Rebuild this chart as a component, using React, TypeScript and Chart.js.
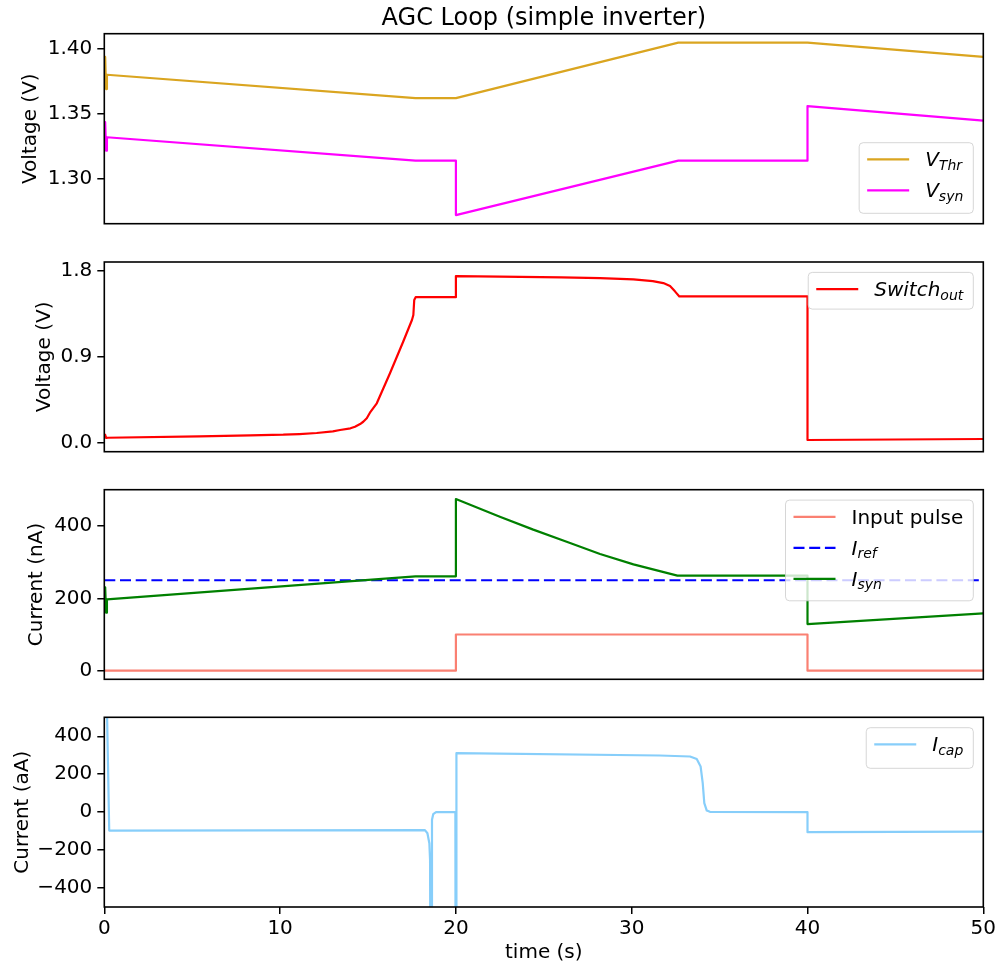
import React, { useEffect, useRef } from 'react';
import { Chart, registerables } from 'chart.js';

Chart.register(...registerables);
Chart.defaults.font.family = '"DejaVu Sans", sans-serif';
Chart.defaults.color = '#000';

const FIG_W = 1000;
const FIG_H = 966;
const FRAME_LEFT = 104.3;
const FRAME_RIGHT = 983.3;

// shared time axis (s)
const timeRange = [0, 50];
const timeTicks = [0, 10, 20, 30, 40, 50];

// panel 1: threshold and synapse voltages (V)
const vThrTime = [0, 0.05, 0.1, 0.15, 17.7, 20.0, 32.65, 40.0, 50];
const vThrValues = [1.3797, 1.3934, 1.3687, 1.3797, 1.3617, 1.3617, 1.4044, 1.4044, 1.3934];
const vSynTime = [0, 0.05, 0.1, 0.15, 17.7, 20.0, 20.0, 32.65, 40.0, 40.0, 50];
const vSynValues = [1.3316, 1.3432, 1.3213, 1.3316, 1.3136, 1.3136, 1.2717, 1.3136, 1.3136, 1.3556, 1.3444];
const voltTicksTop = [1.3, 1.35, 1.4];

// panel 2: switch output (V)
const switchTime = [
  0, 0.05, 0.1, 0.15, 5.4, 8.3, 10.18, 11.1, 12.08, 13.0, 13.41, 14.0, 14.26, 14.55, 14.73, 14.93,
  15.11, 15.5, 16.25, 17.0, 17.5, 17.58, 17.63, 17.71, 20.0, 20.0, 22.5, 26.0, 28.2, 30.1, 31.2,
  31.8, 32.18, 32.46, 32.71, 40.0, 40.0, 50,
];
const switchValues = [
  0.048, 0.08, 0.045, 0.048, 0.062, 0.0735, 0.08, 0.087, 0.098, 0.115, 0.129, 0.147, 0.164, 0.192,
  0.216, 0.252, 0.311, 0.41, 0.725, 1.057, 1.285, 1.337, 1.495, 1.525, 1.525, 1.747, 1.741, 1.733,
  1.726, 1.712, 1.694, 1.673, 1.642, 1.586, 1.533, 1.533, 0.024, 0.035,
];
const voltTicksSwitch = [0, 0.9, 1.8];

// panel 3: currents (nA)
const pulseTime = [0, 20, 20, 40, 40, 50];
const pulseValues = [0, 0, 100, 100, 0, 0];
const refTime = [0, 50];
const refValues = [250, 250];
const iSynTime = [0, 0.05, 0.1, 0.15, 17.7, 20.0, 20.0, 22.5, 24.4, 26.3, 28.2, 30.1, 32.6, 40.0, 40.0, 50];
const iSynValues = [197.4, 230.6, 160.4, 197.4, 261, 261, 474.7, 425.8, 390, 356.7, 322.6, 294, 262.7, 262.7, 129, 158.7];
const currentTicksNa = [0, 200, 400];

// panel 4: capacitor current (aA)
const iCapTime = [
  0, 0.14, 0.28, 18.24, 18.38, 18.49, 18.53, 18.57, 18.6, 18.64, 18.71, 18.87, 19.97, 19.99, 20.01,
  20.03, 31.6, 33.32, 33.7, 33.92, 34.04, 34.13, 34.27, 34.45, 40.0, 40.0, 50,
];
const iCapValues = [
  2500, 600, -97, -95, -111, -164, -252, -1500, -1500, -40.6, -10.7, 0, 0, -1500, -1500, 311, 298.7,
  293.4, 279.7, 240.6, 153, 47.5, 8.4, 1.6, 0, -105.5, -103,
];
const currentTicksAa = [-400, -200, 0, 200, 400];

type Series = {
  label: string;
  sub?: string;
  italic: boolean;
  color: string;
  dash?: number[];
  time: number[];
  values: number[];
  order: number;
};

type PanelSpec = {
  top: number;
  bottom: number;
  yRange: number[];
  yTicks: number[];
  decimals: number;
  yTitle: string;
  yTitleOffset: number;
  series: Series[];
  legendLoc: 'upper' | 'lower';
  legendHeight: number;
  heading?: string;
};

const LINE_W = 2.2;

const panels: PanelSpec[] = [
  {
    top: 33.7,
    bottom: 223.7,
    yRange: [1.2651, 1.4113],
    yTicks: voltTicksTop,
    decimals: 2,
    yTitle: 'Voltage (V)',
    yTitleOffset: 18.5,
    legendLoc: 'lower',
    legendHeight: 70.6,
    heading: 'AGC Loop (simple inverter)',
    series: [
      { label: 'V', sub: 'Thr', italic: true, color: '#daa520', time: vThrTime, values: vThrValues, order: 2 },
      { label: 'V', sub: 'syn', italic: true, color: '#ff00ff', time: vSynTime, values: vSynValues, order: 1 },
    ],
  },
  {
    top: 262,
    bottom: 451.7,
    yRange: [-0.0987, 1.8945],
    yTicks: voltTicksSwitch,
    decimals: 1,
    yTitle: 'Voltage (V)',
    yTitleOffset: 32.7,
    legendLoc: 'upper',
    legendHeight: 36.7,
    series: [
      { label: 'Switch', sub: 'out', italic: true, color: '#ff0000', time: switchTime, values: switchValues, order: 1 },
    ],
  },
  {
    top: 489.7,
    bottom: 679.3,
    yRange: [-23.8, 500.4],
    yTicks: currentTicksNa,
    decimals: 0,
    yTitle: 'Current (nA)',
    yTitleOffset: 25.2,
    legendLoc: 'upper',
    legendHeight: 100.7,
    series: [
      { label: 'Input pulse', italic: false, color: '#fa8072', time: pulseTime, values: pulseValues, order: 3 },
      { label: 'I', sub: 'ref', italic: true, color: '#0000ff', dash: [11, 4.7], time: refTime, values: refValues, order: 2 },
      { label: 'I', sub: 'syn', italic: true, color: '#008000', time: iSynTime, values: iSynValues, order: 1 },
    ],
  },
  {
    top: 717.3,
    bottom: 907,
    yRange: [-500, 500],
    yTicks: currentTicksAa,
    decimals: 0,
    yTitle: 'Current (aA)',
    yTitleOffset: 10.5,
    legendLoc: 'upper',
    legendHeight: 40.6,
    series: [
      { label: 'I', sub: 'cap', italic: true, color: '#87cefa', time: iCapTime, values: iCapValues, order: 1 },
    ],
  },
];

const formatTick = (v: number, decimals: number) => v.toFixed(decimals).replace('-', '\u2212');

const mainFont = (italic: boolean) => `${italic ? 'italic ' : ''}20px "DejaVu Sans"`;
const subFont = 'italic 14px "DejaVu Sans"';

function measureLabel(ctx: CanvasRenderingContext2D, s: Series) {
  ctx.font = mainFont(s.italic);
  let w = ctx.measureText(s.label).width;
  if (s.sub) {
    ctx.font = subFont;
    w += ctx.measureText(s.sub).width;
  }
  return w;
}

function drawLabel(ctx: CanvasRenderingContext2D, s: Series, x: number, baseline: number) {
  ctx.fillStyle = '#000';
  ctx.textAlign = 'left';
  ctx.textBaseline = 'alphabetic';
  ctx.font = mainFont(s.italic);
  ctx.fillText(s.label, x, baseline);
  if (s.sub) {
    const w = ctx.measureText(s.label).width;
    ctx.font = subFont;
    ctx.fillText(s.sub, x + w, baseline + 3.5);
  }
}

function roundedRect(ctx: CanvasRenderingContext2D, x: number, y: number, w: number, h: number, r: number) {
  ctx.beginPath();
  ctx.moveTo(x + r, y);
  ctx.lineTo(x + w - r, y);
  ctx.arcTo(x + w, y, x + w, y + r, r);
  ctx.lineTo(x + w, y + h - r);
  ctx.arcTo(x + w, y + h, x + w - r, y + h, r);
  ctx.lineTo(x + r, y + h);
  ctx.arcTo(x, y + h, x, y + h - r, r);
  ctx.lineTo(x, y + r);
  ctx.arcTo(x, y, x + r, y, r);
  ctx.closePath();
}

// axes frame, figure heading and in-axes legend
const panelDecor = {
  id: 'panelDecor',
  afterDatasetsDraw(chart: any, _args: any, opts: any) {
    const ctx: CanvasRenderingContext2D = chart.ctx;
    const { left, top, right, bottom } = chart.chartArea;
    ctx.save();
    ctx.strokeStyle = '#000';
    ctx.lineWidth = 1.6;
    ctx.strokeRect(left, top, right - left, bottom - top);

    if (opts.heading) {
      ctx.font = '24px "DejaVu Sans"';
      ctx.fillStyle = '#000';
      ctx.textAlign = 'center';
      ctx.textBaseline = 'alphabetic';
      ctx.fillText(opts.heading, (left + right) / 2, top - 8.7);
    }

    const items: Series[] = opts.items;
    const labelW = Math.max(...items.map((s) => measureLabel(ctx, s)));
    const boxW = 8 + 42 + 16 + labelW + 10;
    const boxH: number = opts.height;
    const bx = right - 10 - boxW;
    const by = opts.loc === 'upper' ? top + 10.4 : bottom - 10.4 - boxH;
    roundedRect(ctx, bx, by, boxW, boxH, 4);
    ctx.fillStyle = 'rgba(255,255,255,0.8)';
    ctx.fill();
    ctx.strokeStyle = 'rgba(204,204,204,0.8)';
    ctx.lineWidth = 1;
    ctx.stroke();

    items.forEach((s, k) => {
      const cy = by + 16.7 + k * 31;
      ctx.beginPath();
      ctx.setLineDash(s.dash || []);
      ctx.strokeStyle = s.color;
      ctx.lineWidth = LINE_W;
      ctx.moveTo(bx + 8, cy);
      ctx.lineTo(bx + 50, cy);
      ctx.stroke();
      ctx.setLineDash([]);
      drawLabel(ctx, s, bx + 66, cy + 7);
    });
    ctx.restore();
  },
};

function PanelChart({ spec, index }: { spec: PanelSpec; index: number }) {
  const ref = useRef<HTMLCanvasElement>(null);
  const isLast = index === panels.length - 1;
  const canvasTop = index === 0 ? 0 : Math.floor(spec.top - 26);
  const canvasBottom = isLast ? FIG_H : Math.ceil(spec.bottom + 26);
  const height = canvasBottom - canvasTop;
  const padTop = spec.top - canvasTop;
  const padBottom = isLast ? 0 : canvasBottom - spec.bottom;

  useEffect(() => {
    if (!ref.current) return;
    const chart = new Chart(ref.current, {
      type: 'scatter',
      data: {
        datasets: spec.series.map((s) => ({
          label: s.label + (s.sub || ''),
          data: s.time.map((t, i) => ({ x: t, y: s.values[i] })),
          showLine: true,
          borderColor: s.color,
          backgroundColor: s.color,
          borderWidth: LINE_W,
          borderDash: s.dash || [],
          borderJoinStyle: 'round',
          pointRadius: 0,
          pointHoverRadius: 0,
          tension: 0,
          order: s.order,
        })),
      },
      options: {
        responsive: false,
        animation: false,
        devicePixelRatio: 1,
        events: [],
        layout: { padding: { left: 0, right: FIG_W - FRAME_RIGHT, top: padTop, bottom: padBottom } },
        plugins: {
          legend: { display: false },
          tooltip: { enabled: false },
          title: { display: false },
          panelDecor: {
            items: spec.series,
            loc: spec.legendLoc,
            height: spec.legendHeight,
            heading: spec.heading,
          },
        } as any,
        scales: {
          x: {
            type: 'linear',
            min: timeRange[0],
            max: timeRange[1],
            display: isLast,
            afterBuildTicks: (axis: any) => {
              axis.ticks = timeTicks.map((value) => ({ value }));
            },
            afterFit: (axis: any) => {
              axis.height = isLast ? FIG_H - spec.bottom : 0;
            },
            ticks: {
              font: { size: 20 },
              color: '#000',
              padding: 3,
              maxRotation: 0,
              autoSkip: false,
              callback: (v: any) => formatTick(Number(v), 0),
            },
            grid: { drawOnChartArea: false, drawTicks: true, tickLength: 7, color: '#000', lineWidth: 1.5 },
            border: { display: false },
            title: {
              display: true,
              text: 'time (s)',
              font: { size: 20 },
              color: '#000',
              padding: { top: 0, bottom: 1 },
            },
          },
          y: {
            type: 'linear',
            min: spec.yRange[0],
            max: spec.yRange[1],
            afterBuildTicks: (axis: any) => {
              axis.ticks = spec.yTicks.map((value) => ({ value }));
            },
            afterFit: (axis: any) => {
              axis.width = FRAME_LEFT;
            },
            ticks: {
              font: { size: 20 },
              color: '#000',
              padding: 5,
              autoSkip: false,
              callback: (v: any) => formatTick(Number(v), spec.decimals),
            },
            grid: { drawOnChartArea: false, drawTicks: true, tickLength: 7, color: '#000', lineWidth: 1.5 },
            border: { display: false },
            title: {
              display: true,
              text: spec.yTitle,
              font: { size: 20 },
              color: '#000',
              padding: { top: spec.yTitleOffset, bottom: 0 },
            },
          },
        },
      },
      plugins: [panelDecor],
    } as any);
    return () => chart.destroy();
  }, [spec]);

  return (
    <canvas
      ref={ref}
      width={FIG_W}
      height={height}
      style={{ position: 'absolute', left: 0, top: canvasTop, width: FIG_W, height }}
    />
  );
}

export default function App() {
  return (
    <div
      style={{
        position: 'fixed',
        left: 0,
        top: 0,
        width: FIG_W,
        height: FIG_H,
        background: '#fff',
        overflow: 'hidden',
      }}
    >
      {panels.map((p, i) => (
        <PanelChart key={i} spec={p} index={i} />
      ))}
    </div>
  );
}
